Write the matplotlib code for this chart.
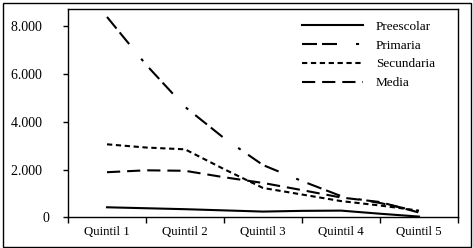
import numpy as np
import matplotlib
matplotlib.use('Agg')
import matplotlib.pyplot as plt
from matplotlib.patches import Rectangle

# valores (quintil y punto medio entre quintiles)
categorias = ['Quintil 1', 'Quintil 2', 'Quintil 3', 'Quintil 4', 'Quintil 5']
preescolar = [420, 380, 340, 290, 240, 270, 280, 150, 30]
primaria = [8400, 6400, 4630, 3320, 2190, 1520, 890, 600, 250]
secundaria = [3060, 2925, 2850, 2020, 1230, 955, 680, 495, 280]
media = [1890, 1970, 1950, 1680, 1440, 1140, 830, 640, 200]
yticks = [0, 2000, 4000, 6000, 8000]

plt.rcParams['font.family'] = ['Liberation Serif', 'DejaVu Serif']
plt.rcParams['lines.scale_dashes'] = False

fig = plt.figure(figsize=(4.73, 2.48), dpi=100)
ax = fig.add_axes([68 / 473, 1 - 217.3 / 248, 390 / 473, 208 / 248])

x = np.arange(len(preescolar)) / 2
lw = 1.5
ax.plot(x, preescolar, color='black', lw=lw, label='Preescolar')
ax.plot(x, primaria, color='black', lw=lw, dashes=(10.8, 3.6, 10.8, 13.7, 2.2, 6.5), label='Primaria')
ax.plot(x, secundaria, color='black', lw=lw, dashes=(3.8, 2.6), label='Secundaria')
ax.plot(x, media, color='black', lw=lw, dashes=(9.5, 5), label='Media')

ax.set_xlim(-0.5, 4.5)
ax.set_ylim(0, 8720)

ax.set_xticks(range(len(categorias)))
ax.set_xticklabels(categorias, fontsize=9.3)
ax.set_xticks(np.arange(len(categorias) + 1) - 0.5, minor=True)
ax.tick_params(axis='x', which='major', length=0, pad=6)
ax.tick_params(axis='x', which='minor', length=4.3, width=1, direction='out')

ax.set_yticks(yticks)
ax.set_yticklabels([f'{v:,}'.replace(',', '.') + ('  ' if v else '') for v in yticks], fontsize=10)
ax.tick_params(axis='y', length=3.6, width=1, direction='out', pad=10)

for s in ax.spines.values():
    s.set_linewidth(1)

fig.legend(loc='upper left', bbox_to_anchor=(302 / 473, 1 - 20.5 / 248), frameon=False,
           fontsize=9.5, handlelength=4.6, handletextpad=1.0, labelspacing=0.5,
           borderpad=0, borderaxespad=0)

# marco exterior
fig.patches.append(Rectangle((3 / 473, 1.5 / 248), 467.5 / 473, 243.5 / 248,
                             transform=fig.transFigure, fill=False, lw=1, color='black'))

plt.savefig('out.png', dpi=100)
